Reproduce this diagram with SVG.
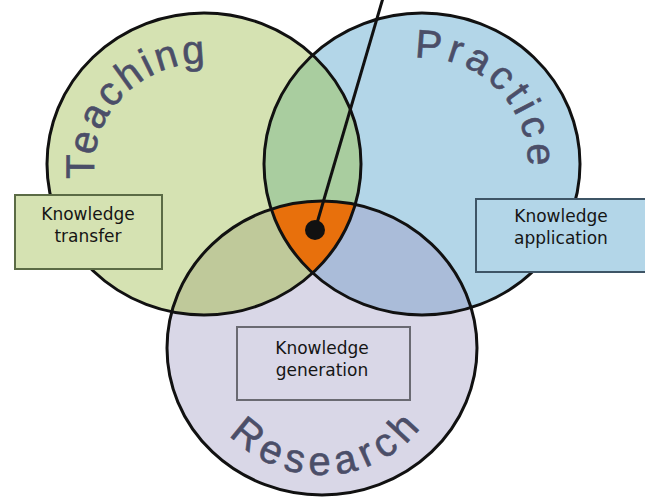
<svg xmlns="http://www.w3.org/2000/svg" width="645" height="501" viewBox="0 0 645 501">
<style>
.ring{fill:none;stroke:#111;stroke-width:3}
.big{font-family:"Liberation Sans",Arial,sans-serif;font-size:40px;fill:#4b4e68;stroke:#4b4e68;stroke-width:0.6px}
.lbl{font-family:"DejaVu Sans",Verdana,sans-serif;font-size:17px;fill:#151515;text-anchor:middle}
.box{stroke-width:2}
</style>
<defs>
<ellipse id="eT" cx="204" cy="164" rx="157" ry="151"/>
<ellipse id="eP" cx="422" cy="164" rx="158" ry="151"/>
<ellipse id="eR" cx="322" cy="348" rx="155" ry="147"/>
<clipPath id="cT"><use href="#eT"/></clipPath>
<clipPath id="cP"><use href="#eP"/></clipPath>
<clipPath id="cR"><use href="#eR"/></clipPath>
<path id="pT" d="M 94.6 179 A 110 105 0 0 1 259 77"/>
<path id="pP" d="M 414.6 58.3 A 106 106 0 0 1 526.4 182.4"/>
<path id="pR" d="M 229.1 434.6 A 127 127 0 0 0 432 411.5"/>
</defs>
<rect width="645" height="501" fill="#fff"/>
<g id="teaching">
<use href="#eT" fill="#d5e2b2"/>
</g>
<g id="practice">
<use href="#eP" fill="#b3d6e8"/>
</g>
<g id="research">
<use href="#eR" fill="#d9d7e7"/>
</g>
<g id="overlaps">
<g clip-path="url(#cT)"><use href="#eP" fill="#a9cd9f"/></g>
<g clip-path="url(#cT)"><use href="#eR" fill="#bfc99a"/></g>
<g clip-path="url(#cP)"><use href="#eR" fill="#aabcd9"/></g>
<g clip-path="url(#cT)"><g clip-path="url(#cP)"><use href="#eR" fill="#e8700c"/></g></g>
</g>
<g id="rings">
<use href="#eT" class="ring"/>
<use href="#eP" class="ring"/>
<use href="#eR" class="ring"/>
</g>
<g id="titles">
<text class="big" letter-spacing="3"><textPath href="#pT">Teaching</textPath></text>
<text class="big" letter-spacing="4.5"><textPath href="#pP">Practice</textPath></text>
<text class="big" letter-spacing="6.5"><textPath href="#pR">Research</textPath></text>
</g>
<g id="connectors">
<line x1="383" y1="-2" x2="315" y2="230" stroke="#111" stroke-width="3"/>
<circle cx="315" cy="230" r="10" fill="#111"/>
</g>
<g id="transfer">
<rect class="box" x="15" y="195" width="147" height="74" fill="#d5e2b2" stroke="#5b6b45"/>
<text class="lbl" x="88" y="220">Knowledge</text>
<text class="lbl" x="88" y="242">transfer</text>
</g>
<g id="application">
<rect class="box" x="476" y="199" width="172" height="73" fill="#b3d6e8" stroke="#3e5566"/>
<text class="lbl" x="561" y="222">Knowledge</text>
<text class="lbl" x="561" y="244">application</text>
</g>
<g id="generation">
<rect class="box" x="237" y="327" width="173" height="73" fill="#d9d7e7" stroke="#6a6a72"/>
<text class="lbl" x="322" y="354">Knowledge</text>
<text class="lbl" x="322" y="376">generation</text>
</g>
</svg>
